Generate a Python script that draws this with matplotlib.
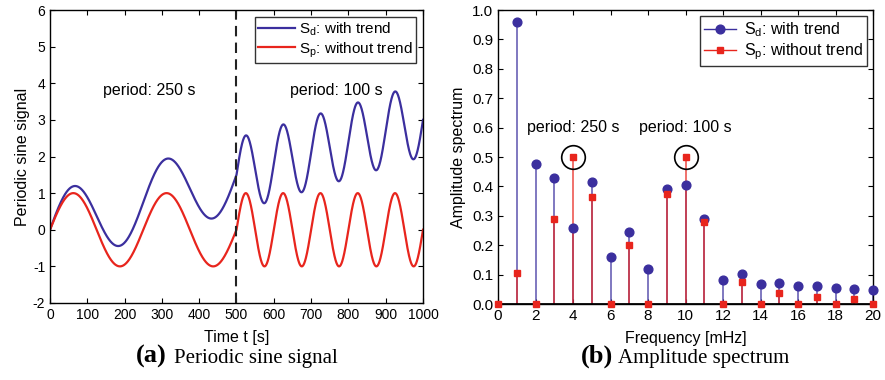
import numpy as np
import matplotlib
matplotlib.use('Agg')
import matplotlib.pyplot as plt
from matplotlib.lines import Line2D
from matplotlib.legend_handler import HandlerLine2D

# signal parameters
periods = [250, 100]          # period before / after the switch [s]
t_switch = 500                # switch time [s]
amplitude = 1.0
trend_slope = 0.003           # S_d = S_p + trend_slope * t
t_end = 1000

# amplitude spectrum
freqs = list(range(0, 21))
spec_trend = [1.5, 0.96, 0.475, 0.43, 0.26, 0.415, 0.16, 0.245, 0.12, 0.39, 0.405,
              0.29, 0.08, 0.103, 0.068, 0.072, 0.06, 0.06, 0.053, 0.052, 0.047]
spec_notrend = [0.0, 0.105, 0.0, 0.29, 0.5, 0.365, 0.0, 0.2, 0.0, 0.375, 0.5,
                0.28, 0.0, 0.075, 0.0, 0.038, 0.0, 0.025, 0.0, 0.017, 0.0]
circled = [4, 10]

blue = '#3b2f9e'
red = '#e8251d'

plt.rcParams['font.family'] = ['Liberation Sans', 'DejaVu Sans']
plt.rcParams['xtick.direction'] = 'in'
plt.rcParams['ytick.direction'] = 'in'
plt.rcParams['axes.unicode_minus'] = False


class EndMarker(HandlerLine2D):
    # put the legend marker at the right end of the line, like matlab stem
    def get_xdata(self, legend, xdescent, ydescent, width, height, fontsize):
        xd = np.array([-xdescent, -xdescent + width])
        return xd, xd[-1:]


fig = plt.figure(figsize=(8.85, 3.8), dpi=100)
ax1 = fig.add_axes([50/885, 77/380, 373/885, 293/380])
ax2 = fig.add_axes([498/885, 76/380, 375/885, 294/380])

# ---- left: periodic sine signal
t = np.linspace(0, t_end, 2001)
sp = np.where(t <= t_switch,
              amplitude*np.sin(2*np.pi*t/periods[0]),
              amplitude*np.sin(2*np.pi*(t - t_switch)/periods[1]))
sd = sp + trend_slope*t

ax1.plot(t, sd, color=blue, lw=1.6, label=r'S$_\mathregular{d}$: with trend')
ax1.plot(t, sp, color=red, lw=1.6, label=r'S$_\mathregular{p}$: without trend')
ax1.axvline(t_switch, color='#222222', lw=1.5, ls=(0, (5, 3)))
ax1.set_xlim(0, t_end)
ax1.set_ylim(-2, 6)
ax1.set_xticks(range(0, 1001, 100))
ax1.set_yticks(range(-2, 7))
ax1.tick_params(labelsize=10, top=True, right=True, length=3.5, width=0.8)
ax1.text(267, 3.8, 'period: 250 s', ha='center', va='center', fontsize=11.5)
ax1.text(767, 3.8, 'period: 100 s', ha='center', va='center', fontsize=11.5)
ax1.set_xlabel('Time t [s]', fontsize=11.5, labelpad=6)
ax1.set_ylabel('Periodic sine signal', fontsize=11.5, labelpad=2)
leg1 = ax1.legend(loc='upper right', fontsize=11, frameon=True, fancybox=False,
                  edgecolor='black', handlelength=2.4, borderpad=0.2,
                  labelspacing=0.15, handletextpad=0.3, borderaxespad=0.45)
leg1.get_frame().set_linewidth(1.0)

# ---- right: amplitude spectrum
for vals, col, mk, ms in [(spec_trend, blue, 'o', 6.3), (spec_notrend, red, 's', 5)]:
    ml, sl, bl = ax2.stem(freqs, vals, basefmt=' ')
    sl.set_color(col)
    sl.set_alpha(0.7)
    sl.set_linewidth(1.3)
    ml.set_marker(mk)
    ml.set_markersize(ms)
    ml.set_color(col)
    ml.set_clip_on(False)
    ml.set_zorder(4)
ax2.axhline(0, color='black', lw=2, zorder=3)
ax2.plot(circled, [spec_notrend[f] for f in circled], 'o', ms=17, mfc='none',
         mec='black', mew=1.2)
ax2.set_xlim(0, 20)
ax2.set_ylim(0, 1)
ax2.set_xticks(range(0, 21, 2))
ax2.set_yticks(np.arange(0, 1.01, 0.1))
ax2.set_yticklabels(['%.1f' % v for v in np.arange(0, 1.01, 0.1)])
ax2.tick_params(labelsize=11, top=True, right=True, length=3.5, width=0.8)
ax2.text(4, 0.6, 'period: 250 s', ha='center', va='center', fontsize=11.5)
ax2.text(10, 0.6, 'period: 100 s', ha='center', va='center', fontsize=11.5)
ax2.set_xlabel('Frequency [mHz]', fontsize=11.5, labelpad=6)
ax2.set_ylabel('Amplitude spectrum', fontsize=11.5, labelpad=4)

h1 = Line2D([0, 1], [0, 0], color=blue, lw=1.0, marker='o', ms=6.3)
h2 = Line2D([0, 1], [0, 0], color=red, lw=1.0, marker='s', ms=5)
leg2 = ax2.legend([h1, h2], [r'S$_\mathregular{d}$: with trend', r'S$_\mathregular{p}$: without trend'],
                  loc='upper right', fontsize=11.5, frameon=True, fancybox=False,
                  edgecolor='black', handlelength=2.0, borderpad=0.25,
                  labelspacing=0.15, handletextpad=0.5, borderaxespad=0.4,
                  handler_map={h1: EndMarker(), h2: EndMarker()})
leg2.get_frame().set_linewidth(1.0)

for ax in (ax1, ax2):
    for s in ax.spines.values():
        s.set_linewidth(1.0)

# captions
fig.text(136/885, 17/380, '(a)', fontsize=19, fontweight='bold',
         family='Liberation Serif', va='baseline')
fig.text(174/885, 17/380, 'Periodic sine signal', fontsize=15,
         family='Liberation Serif', va='baseline')
fig.text(581/885, 17/380, '(b)', fontsize=19, fontweight='bold',
         family='Liberation Serif', va='baseline')
fig.text(618/885, 17/380, 'Amplitude spectrum', fontsize=15,
         family='Liberation Serif', va='baseline')

fig.savefig('out.png', dpi=100)
